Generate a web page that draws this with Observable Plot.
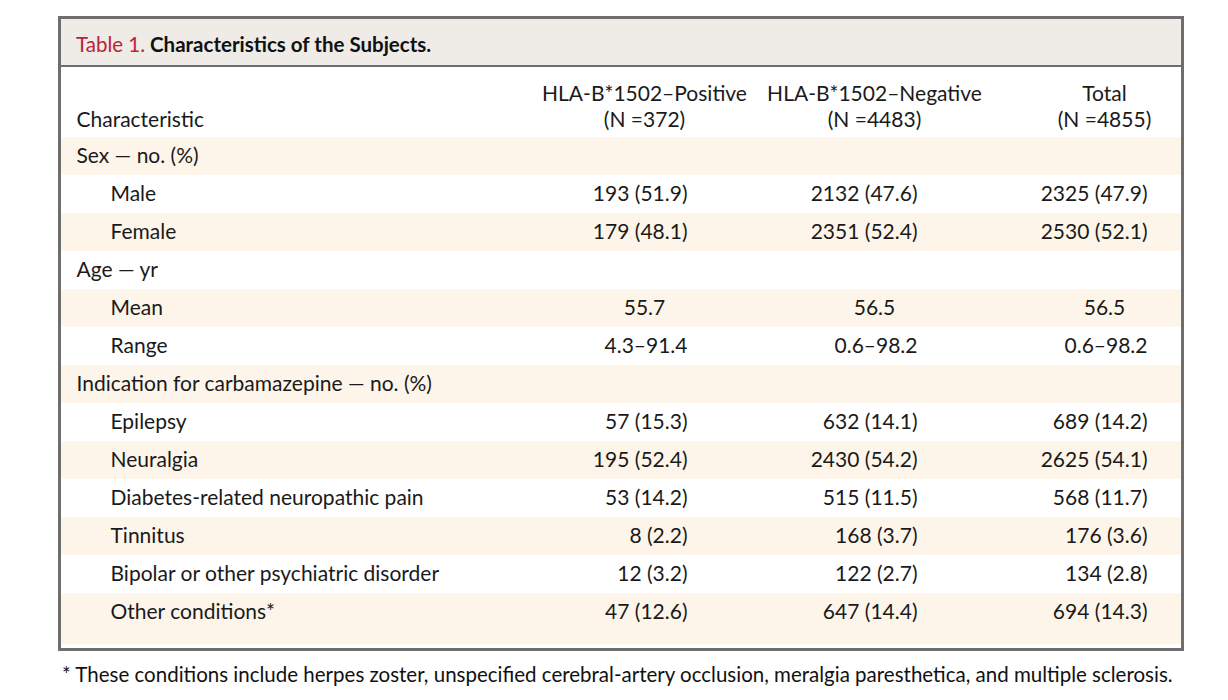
<!DOCTYPE html>
<html><head><meta charset="utf-8">
<script src="https://cdn.jsdelivr.net/npm/d3@7"></script>
<script src="https://cdn.jsdelivr.net/npm/@observablehq/plot@0.6"></script>
<style>
body{margin:0;background:#fff;font-family:Lato,sans-serif;color:#1a1a1a;}
#page{position:relative;width:1228px;height:700px;overflow:hidden;}
#box{position:absolute;left:58px;top:16px;width:1126px;height:635px;border:3px solid #6e6e6e;box-sizing:border-box;}
#title{height:46px;line-height:50px;background:#efebe6;border-bottom:2px solid #6e6e6e;padding-left:15px;font-size:20.5px;font-weight:bold;color:#111;}
#title .num{color:#b8243c;font-weight:normal;}
#chart svg{display:block;}
#note{position:absolute;left:62px;top:660px;line-height:28px;font-size:20.5px;color:#111;}
</style>
</head><body>
<div id="page">
  <div id="box">
    <div id="title"><span class="num">Table 1.</span> Characteristics of the Subjects.</div>
    <div id="chart"></div>
  </div>
  <div id="note">* These conditions include herpes zoster, unspecified cerebral-artery occlusion, meralgia paresthetica, and multiple sclerosis.</div>
</div>
<script>
const firstHeader = "Characteristic";
const columnKeys = ["pos", "neg", "tot"];
const columnHeaders = ["HLA-B*1502–Positive\n(N =372)", "HLA-B*1502–Negative\n(N =4483)", "Total\n(N =4855)"];
const rowLabels = ["Sex — no. (%)", "Male", "Female", "Age — yr", "Mean", "Range",
  "Indication for carbamazepine — no. (%)", "Epilepsy", "Neuralgia",
  "Diabetes-related neuropathic pain", "Tinnitus", "Bipolar or other psychiatric disorder", "Other conditions*"];
const isSubRow = [false, true, true, false, true, true, false, true, true, true, true, true, true];
const positive = ["", "193 (51.9)", "179 (48.1)", "", "55.7", "4.3–91.4", "", "57 (15.3)", "195 (52.4)", "53 (14.2)", "8 (2.2)", "12 (3.2)", "47 (12.6)"];
const negative = ["", "2132 (47.6)", "2351 (52.4)", "", "56.5", "0.6–98.2", "", "632 (14.1)", "2430 (54.2)", "515 (11.5)", "168 (3.7)", "122 (2.7)", "647 (14.4)"];
const total = ["", "2325 (47.9)", "2530 (52.1)", "", "56.5", "0.6–98.2", "", "689 (14.2)", "2625 (54.1)", "568 (11.7)", "176 (3.6)", "134 (2.8)", "694 (14.3)"];

const rows = rowLabels.map((label, i) => ({i, label, sub: isSubRow[i], pos: positive[i], neg: negative[i], tot: total[i]}));
const cells = rows.flatMap(r => columnKeys.map(c => ({row: r.label, col: c, value: r[c], center: r.label === "Mean"})).filter(d => d.value));
const lastIndex = rows.length - 1;
const stripe = "#fdf5ea";
const fs = 21;

const chart = Plot.plot({
  width: 1120, height: 581,
  marginTop: 67, marginBottom: 13.5, marginLeft: 0, marginRight: 0,
  style: {fontFamily: "Lato, sans-serif", fontSize: fs + "px", color: "#1a1a1a", background: "transparent"},
  x: {type: "point", domain: columnKeys, range: [582, 1043], padding: 0, axis: null},
  y: {type: "band", domain: rowLabels, padding: 0, axis: null},
  marks: [
    Plot.cell(rows.filter(d => d.i % 2 === 0 && d.i !== lastIndex), {y: "label", fill: stripe}),
    Plot.cell(rows.filter(d => d.i === lastIndex && d.i % 2 === 0), {y: "label", fill: stripe, insetBottom: -13.5}),
    Plot.text([firstHeader], {frameAnchor: "top-left", textAnchor: "start", lineAnchor: "bottom", dx: 15, dy: -8, fontSize: fs}),
    Plot.text(columnKeys, {x: d => d, text: (d, i) => columnHeaders[i], frameAnchor: "top", lineAnchor: "bottom", lineHeight: 1.2, dy: -8, fontSize: fs}),
    Plot.text(rows.filter(d => !d.sub), {y: "label", text: "label", frameAnchor: "left", textAnchor: "start", dx: 15, fontSize: fs}),
    Plot.text(rows.filter(d => d.sub), {y: "label", text: "label", frameAnchor: "left", textAnchor: "start", dx: 49, fontSize: fs}),
    Plot.text(cells.filter(d => !d.center), {x: "col", y: "row", text: "value", textAnchor: "end", dx: 43, fontSize: fs}),
    Plot.text(cells.filter(d => d.center), {x: "col", y: "row", text: "value", textAnchor: "middle", fontSize: fs})
  ]
});
document.getElementById("chart").appendChild(chart);
</script>
</body></html>
